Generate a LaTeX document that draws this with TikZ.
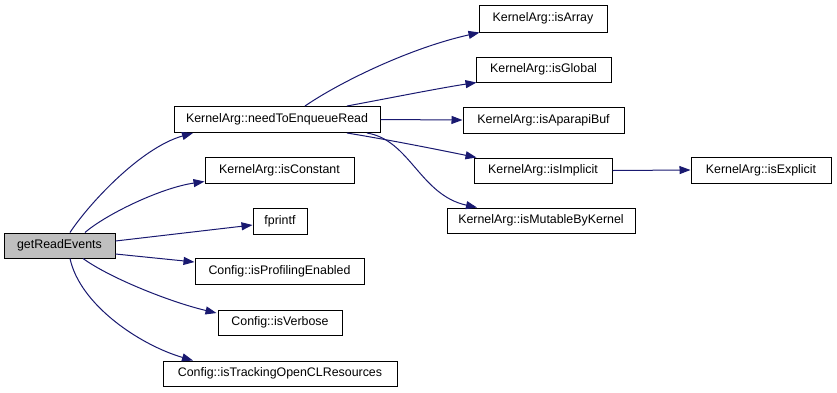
\documentclass[tikz,border=0pt]{standalone}
\usepackage{fontspec}
\setmainfont{Liberation Sans}
\usetikzlibrary{arrows.meta}
\definecolor{edgeblue}{HTML}{191970}
\definecolor{curgray}{HTML}{BFBFBF}
\begin{document}
\begin{tikzpicture}[x=1pt,y=-1pt,
  fn/.style={draw=black,line width=1pt,fill=white,inner sep=0pt,
    font=\fontsize{12.4}{14}\selectfont,text=black},
  cur/.style={fn,fill=curgray},
  call/.style={draw=edgeblue,line width=1pt,
    -{Triangle[length=11pt,width=8pt]},fill=none},
  every to/.style={}]
\useasboundingbox (0,0) rectangle (837,392);

% functions
\node[cur,minimum width=111pt,minimum height=25pt] (gre) at (59.5,245.5) {getReadEvents};
\node[fn,minimum width=206pt,minimum height=26pt] (need) at (277,119.5) {KernelArg::needToEnqueueRead};
\node[fn,minimum width=149pt,minimum height=26pt] (const) at (279.5,170) {KernelArg::isConstant};
\node[fn,minimum width=54pt,minimum height=26pt] (fpr) at (280,221) {fprintf};
\node[fn,minimum width=169pt,minimum height=26pt] (prof) at (279.5,271) {Config::isProfilingEnabled};
\node[fn,minimum width=124pt,minimum height=25pt] (verb) at (280,322.5) {Config::isVerbose};
\node[fn,minimum width=234pt,minimum height=25pt] (track) at (280,373.5) {Config::isTrackingOpenCLResources};
\node[fn,minimum width=128pt,minimum height=27pt] (arr) at (543,18.5) {KernelArg::isArray};
\node[fn,minimum width=135pt,minimum height=25pt] (glob) at (543.5,69.5) {KernelArg::isGlobal};
\node[fn,minimum width=161pt,minimum height=26pt] (apar) at (543.5,120) {KernelArg::isAparapiBuf};
\node[fn,minimum width=138pt,minimum height=25pt] (impl) at (543,170.5) {KernelArg::isImplicit};
\node[fn,minimum width=188pt,minimum height=25pt] (mut) at (541,220.5) {KernelArg::isMutableByKernel};
\node[fn,minimum width=140pt,minimum height=26pt] (expl) at (761,170) {KernelArg::isExplicit};

% calls made by getReadEvents
\draw[call] ([xshift=10.5pt]gre.north) .. controls (88,205) and (140,148) .. ([xshift=-84pt]need.south);
\draw[call] ([xshift=25.5pt]gre.north) .. controls (105,215) and (160,188) .. ([yshift=2pt]const.south west);
\draw[call] ([yshift=4.5pt]gre.east) -- ([yshift=-4pt]fpr.west);
\draw[call] ([yshift=-8.5pt]gre.east) -- ([yshift=9pt]prof.west);
\draw[call] ([xshift=23.5pt]gre.south) .. controls (110,278) and (170,302) .. ([xshift=-1pt,yshift=9.5pt]verb.west);
\draw[call] ([xshift=10.5pt]gre.south) .. controls (80,305) and (140,345) .. ([xshift=-87pt]track.north);

% calls made by KernelArg::needToEnqueueRead
\draw[call] ([xshift=28pt]need.north) .. controls (340,82) and (410,48) .. ([xshift=1pt]arr.south west);
\draw[call] ([xshift=70pt]need.north) .. controls (390,98) and (440,88) .. ([xshift=1pt]glob.south west);
\draw[call] (need.east) -- (apar.west);
\draw[call] ([xshift=70pt]need.south) .. controls (390,140) and (440,150) .. ([xshift=3pt]impl.north west);
\draw[call] ([xshift=90pt]need.south) .. controls (410,140) and (420,195) .. ([xshift=-64pt]mut.north);

% call made by KernelArg::isImplicit
\draw[call] (impl.east) -- (expl.west);
\end{tikzpicture}
\end{document}
